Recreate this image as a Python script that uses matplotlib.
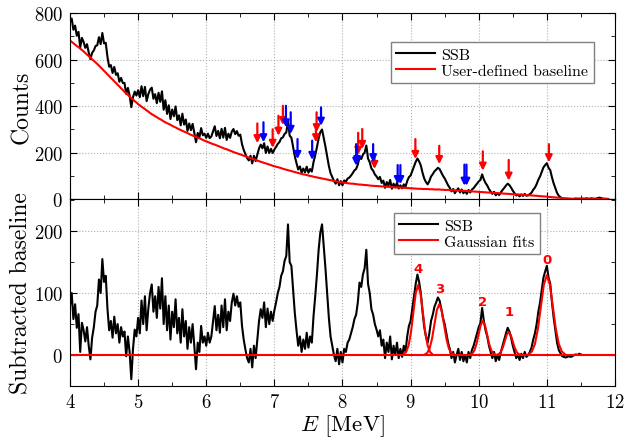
import numpy as np
import matplotlib
matplotlib.use('Agg')
import matplotlib.pyplot as plt
from matplotlib.ticker import MultipleLocator

plt.rcParams['font.family'] = ['cmr10', 'DejaVu Serif']
plt.rcParams['mathtext.fontset'] = 'cm'
plt.rcParams['axes.formatter.use_mathtext'] = True

# SSB spectrum after baseline subtraction, one value every 0.025 MeV from 4.0 MeV
subtracted = [
    79, 100, 58, 82, 44, 66, 5, 52,
    40, 22, 45, 15, -7, 28, 45, 70,
    80, 122, 100, 155, 118, 128, 75, 40,
    55, 28, 62, 35, 50, 20, 45, 30,
    38, -2, 30, 5, -39, 10, 41, 30,
    60, 35, 88, 50, 95, 40, 75, 100,
    114, 70, 95, 60, 110, 75, 124, 50,
    95, 40, 80, 25, 70, 45, 90, 35,
    60, 20, 74, 30, 55, 10, 45, 20,
    50, 15, -23, 20, 5, 47, 20, 30,
    15, 36, 20, 30, 55, 79, 40, 65,
    36, 80, 45, 90, 40, 70, 55, 85,
    99, 80, 95, 78, 85, 47, 25, 9,
    -5, -12, 10, -20, 15, -5, 25, 55,
    74, 60, 85, 45, 75, 50, 70, 55,
    72, 85, 100, 110, 128, 135, 152, 160,
    211, 150, 144, 105, 68, 40, 15, 30,
    5, 25, 10, 36, 12, 30, 20, 63,
    95, 130, 170, 198, 211, 176, 140, 100,
    60, 30, 15, 0, -10, 10, -15, 5,
    -12, 10, 5, 20, 25, 35, 45, 58,
    65, 85, 117, 110, 130, 140, 170, 115,
    100, 74, 65, 50, 41, 30, 40, 15,
    25, -5, 20, 5, 30, -7, 15, 0,
    20, -5, 10, -3, 15, 5, 30, 47,
    55, 75, 95, 115, 130, 118, 100, 70,
    45, 30, 20, 35, 55, 65, 78, 85,
    93, 88, 75, 60, 50, 35, 20, 10,
    -5, 5, -12, 0, 10, -8, 5, -10,
    0, -12, 5, -5, 8, 15, 25, 35,
    45, 52, 76, 55, 40, 30, 15, 5,
    -5, 5, -10, 0, -8, 5, 15, 25,
    35, 44, 38, 28, 15, 5, -5, 0,
    -8, 2, -5, 5, -3, 0, 5, 12,
    25, 35, 50, 70, 85, 105, 125, 135,
    144, 125, 115, 85, 60, 40, 20, 8,
    3, -2, -3, -4, -3, -2, -3, -2,
    0, 1, 0, 2, 1, 2, 1, 3,
    2, 1, 3, 2, 1, 2, 4, 6,
    3, 2, 1, 1, 0,
]

# user-defined baseline on the same channels
baseline = [
    682, 676, 670, 664, 658, 653, 647, 641,
    635, 628, 621, 615, 608, 601, 594, 588,
    581, 574, 566, 559, 551, 544, 536, 529,
    521, 514, 506, 499, 491, 484, 476, 469,
    461, 454, 448, 441, 434, 428, 421, 415,
    408, 403, 397, 392, 387, 381, 376, 370,
    365, 361, 356, 352, 347, 343, 339, 334,
    330, 326, 323, 319, 315, 311, 308, 304,
    300, 297, 293, 290, 287, 283, 280, 276,
    273, 270, 267, 264, 261, 258, 254, 251,
    248, 245, 242, 239, 236, 234, 231, 228,
    225, 222, 219, 216, 214, 211, 208, 205,
    202, 199, 197, 194, 192, 189, 186, 184,
    181, 178, 176, 173, 171, 168, 165, 163,
    160, 158, 155, 153, 151, 148, 146, 143,
    141, 139, 137, 135, 133, 130, 128, 126,
    124, 122, 120, 118, 116, 114, 112, 110,
    108, 106, 105, 103, 101, 99, 98, 96,
    94, 93, 91, 90, 88, 87, 85, 84,
    82, 81, 79, 78, 76, 75, 74, 72,
    71, 70, 69, 68, 67, 66, 66, 65,
    64, 63, 62, 62, 61, 60, 60, 59,
    58, 57, 57, 56, 56, 55, 55, 54,
    54, 53, 53, 52, 52, 51, 51, 50,
    50, 50, 49, 49, 48, 48, 47, 47,
    46, 46, 45, 45, 44, 44, 44, 43,
    43, 43, 43, 42, 42, 42, 41, 41,
    41, 41, 40, 40, 39, 39, 39, 38,
    38, 38, 37, 37, 36, 36, 36, 35,
    35, 34, 34, 33, 33, 32, 32, 31,
    31, 30, 30, 29, 29, 28, 28, 27,
    27, 26, 26, 25, 25, 24, 24, 23,
    23, 22, 22, 21, 21, 20, 20, 19,
    19, 18, 18, 17, 17, 16, 16, 15,
    15, 14, 14, 13, 12, 12, 11, 11,
    10, 9, 9, 8, 7, 7, 6, 6,
    5, 4, 4, 3, 3, 2, 2, 1,
    1, 1, 1, 0, 0, 0, 0, 0,
    0, 0, 0, 0, 0, 0, 0, 0,
    0, 0, 0, 0, 0,
]

# Gaussian fits of peaks 4..0 (energy, counts)
fit4_e = [8.90, 8.935, 8.97, 9.005, 9.04, 9.075, 9.11, 9.145, 9.18, 9.215, 9.25, 9.285, 9.32]
fit4_y = [1.3, 5.0, 15.3, 36.7, 68.5, 99.7, 113, 99.7, 68.5, 36.7, 15.3, 5.0, 1.3]
fit3_e = [9.21, 9.245, 9.28, 9.315, 9.35, 9.385, 9.42, 9.455, 9.49, 9.525, 9.56, 9.595, 9.63]
fit3_y = [0.9, 3.6, 11.1, 26.6, 49.7, 72.4, 82, 72.4, 49.7, 26.6, 11.1, 3.6, 0.9]
fit2_e = [9.874, 9.905, 9.936, 9.967, 9.998, 10.029, 10.06, 10.091, 10.122, 10.153, 10.184, 10.215, 10.246]
fit2_y = [0.6, 2.4, 7.4, 17.9, 33.4, 48.5, 55, 48.5, 33.4, 17.9, 7.4, 2.4, 0.6]
fit1_e = [10.266, 10.295, 10.324, 10.353, 10.382, 10.411, 10.44, 10.469, 10.498, 10.527, 10.556, 10.585, 10.614]
fit1_y = [0.4, 1.6, 5.0, 12.0, 22.4, 32.7, 37, 32.7, 22.4, 12.0, 5.0, 1.6, 0.4]
fit0_e = [10.736, 10.78, 10.824, 10.868, 10.912, 10.956, 11.0, 11.044, 11.088, 11.132, 11.176, 11.22, 11.264]
fit0_y = [1.4, 5.7, 17.5, 41.9, 78.2, 113.8, 129, 113.8, 78.2, 41.9, 17.5, 5.7, 1.4]

peak_labels = ['4', '3', '2', '1', '0']
peak_label_e = [9.11, 9.43, 10.06, 10.44, 11.0]
peak_label_y = [140, 107, 87, 71, 155]

# arrows: energy, start and end (counts)
red_arrow_e = [6.75, 6.975, 7.06, 7.125, 7.62, 7.61, 8.23, 8.29, 8.47, 9.07, 9.42, 10.06, 10.44, 11.03]
red_arrow_top = [325, 300, 358, 401, 373, 322, 285, 301, 194, 258, 229, 205, 168, 236]
red_arrow_tip = [240, 220, 272, 318, 287, 244, 190, 215, 129, 172, 150, 122, 79, 158]
blue_arrow_e = [6.84, 7.17, 7.24, 7.34, 7.555, 7.685, 8.20, 8.215, 8.45, 8.81, 8.85, 9.79, 9.82]
blue_arrow_top = [330, 401, 373, 258, 251, 394, 236, 225, 236, 146, 146, 148, 148]
blue_arrow_tip = [244, 308, 280, 172, 168, 315, 143, 150, 158, 64, 64, 57, 57]

energy = 4.0 + 0.025 * np.arange(len(subtracted))
subtracted = np.array(subtracted)
baseline = np.array(baseline)
counts = subtracted + baseline

fig = plt.figure(figsize=(6.26, 4.39), dpi=100)
ax1 = fig.add_axes([0.1118, 0.5444, 0.8706, 0.4237])
ax2 = fig.add_axes([0.1118, 0.1185, 0.8706, 0.4259])

legend_style = dict(fontsize=11.5, fancybox=False, framealpha=1, edgecolor='#808080',
                    handlelength=2.4, handletextpad=0.4, labelspacing=0.1,
                    borderpad=0.35, borderaxespad=0)

# top panel
ax1.plot(energy, counts, color='black', lw=1.5, label='SSB')
ax1.plot(energy, baseline, color='red', lw=1.5, label='User-defined baseline')
for e, t, b in zip(red_arrow_e, red_arrow_top, red_arrow_tip):
    ax1.annotate('', xy=(e, b), xytext=(e, t),
                 arrowprops=dict(arrowstyle='-|>', color='red', lw=1.6,
                                 mutation_scale=10, shrinkA=0, shrinkB=0))
for e, t, b in zip(blue_arrow_e, blue_arrow_top, blue_arrow_tip):
    ax1.annotate('', xy=(e, b), xytext=(e, t),
                 arrowprops=dict(arrowstyle='-|>', color='blue', lw=1.6,
                                 mutation_scale=10, shrinkA=0, shrinkB=0))
ax1.set_xlim(4, 12)
ax1.set_ylim(0, 800)
ax1.set_ylabel('Counts', fontsize=17)
ax1.yaxis.set_major_locator(MultipleLocator(200))
ax1.yaxis.set_minor_locator(MultipleLocator(100))
ax1.tick_params(labelbottom=False)
ax1.legend(loc='upper right', bbox_to_anchor=(0.961, 0.844), **legend_style)

# bottom panel
mask = energy <= 11.5
ax2.plot(energy[mask], subtracted[mask], color='black', lw=1.5, label='SSB')
ax2.axhline(0, color='red', lw=1.5, label='Gaussian fits')
for fe, fy in [(fit4_e, fit4_y), (fit3_e, fit3_y), (fit2_e, fit2_y),
               (fit1_e, fit1_y), (fit0_e, fit0_y)]:
    ax2.plot(fe, fy, color='red', lw=1.5)
for lab, e, y in zip(peak_labels, peak_label_e, peak_label_y):
    ax2.text(e, y, lab, color='red', fontsize=9.5, fontweight='bold',
             family='DejaVu Sans', ha='center', va='center')
ax2.set_xlim(4, 12)
ax2.set_ylim(-50, 252)
ax2.set_ylabel('Subtracted baseline', fontsize=17)
ax2.set_xlabel('$E$ [MeV]', fontsize=16.5, labelpad=1)
ax2.yaxis.set_major_locator(MultipleLocator(100))
ax2.yaxis.set_minor_locator(MultipleLocator(50))
ax2.legend(loc='upper right', bbox_to_anchor=(0.862, 0.925), **legend_style)

for ax in (ax1, ax2):
    ax.xaxis.set_major_locator(MultipleLocator(1))
    ax.xaxis.set_minor_locator(MultipleLocator(0.5))
    ax.tick_params(which='both', direction='in', top=True, right=True,
                   labelsize=13.5, pad=5)
    ax.tick_params(which='major', length=5)
    ax.tick_params(which='minor', length=3)
    ax.grid(True, which='major', linestyle=':', color='#b0b0b0', lw=0.8)
    ax.set_axisbelow(True)
    ax.yaxis.set_label_coords(-0.068, 0.5)

fig.savefig('out.png', dpi=100)
